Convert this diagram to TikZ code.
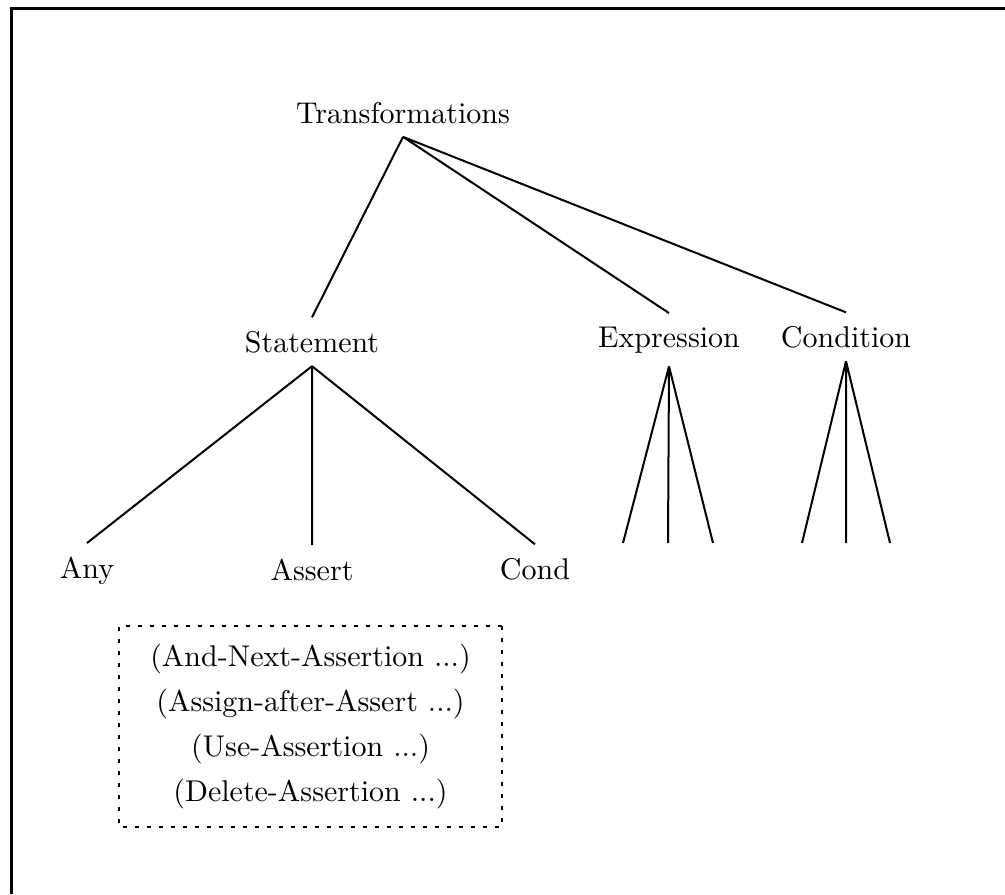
\documentclass[tikz,border=0pt]{standalone}

\begin{document}
\begin{tikzpicture}[x=0.5pt,y=-0.5pt,line width=1pt,
  every node/.style={font=\fontsize{10}{15}\selectfont, scale=1.5, inner sep=4pt}]
\useasboundingbox (0,0) rectangle (1005,894);
\draw[line width=1.5pt] (11,894) -- (11,8) -- (1005,8);

\node[anchor=base] (T) at (403,123) {Transformations};
\node[anchor=base] (St) at (312,352) {Statement};
\node[anchor=base] (Ex) at (669,347) {Expression};
\node[anchor=base] (Co) at (846,347) {Condition};
\node[anchor=base] (Any) at (87,578) {Any};
\node[anchor=base] (As) at (312,580) {Assert};
\node[anchor=base] (Cd) at (535,579) {Cond};

\coordinate (ex1) at (623,543);
\coordinate (ex2) at (668,543);
\coordinate (ex3) at (713,543);
\coordinate (co1) at (802,543);
\coordinate (co2) at (846,543);
\coordinate (co3) at (890,543);

\draw (T.south) -- (St.north)
(T.south) -- (Ex.north)
(T.south) -- (Co.north)
(St.south) -- (Any.north)
(St.south) -- (As.north)
(St.south) -- (Cd.north)
(Ex.south) -- (ex1)
(Ex.south) -- (ex2)
(Ex.south) -- (ex3)
(Co.south) -- (co1)
(Co.south) -- (co2)
(Co.south) -- (co3)
;

\node[draw, dash pattern=on 2pt off 4pt, minimum width=127.7pt,
  minimum height=67pt, align=center] (Asn) at (310.5,726.5)
  {(And-Next-Assertion ...)\\(Assign-after-Assert ...)\\(Use-Assertion ...)\\(Delete-Assertion ...)};
\end{tikzpicture}
\end{document}
